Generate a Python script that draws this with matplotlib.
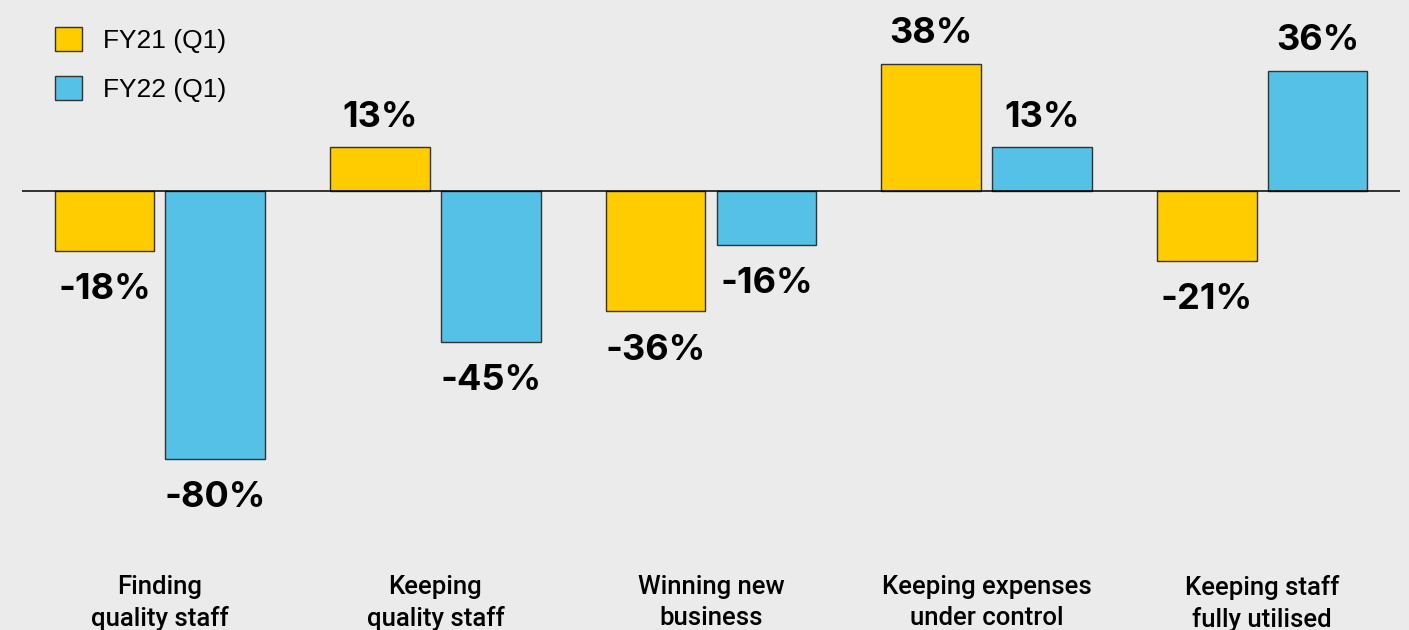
import numpy as np
import matplotlib.pyplot as plt
from matplotlib.patches import Patch

categories = ["Finding\nquality staff", "Keeping\nquality staff", "Winning new\nbusiness",
              "Keeping expenses\nunder control", "Keeping staff\nfully utilised"]
fy21 = [-18, 13, -36, 38, -21]
fy22 = [-80, -45, -16, 13, 36]
series_names = ["FY21 (Q1)", "FY22 (Q1)"]

yellow = "#ffcc00"
blue = "#55c1e7"
bg = "#ebebeb"

fig = plt.figure(figsize=(14.09, 6.3), dpi=100, facecolor=bg)
# zero line sits at y=191px, 3.345px per percent
ax = fig.add_axes([22 / 1409, 1 - 525.5 / 630, 1378 / 1409, 525.2 / 630])
ax.set_facecolor(bg)

x = np.arange(len(categories))
w = 0.362
off = 0.201
b1 = ax.bar(x - off, fy21, w, color=yellow, edgecolor="#333333", linewidth=1)
b2 = ax.bar(x + off, fy22, w, color=blue, edgecolor="#333333", linewidth=1)
ax.axhline(0, color="black", lw=1.1, zorder=3)

ax.set_xlim(-0.5, 4.5)
ax.set_ylim(-100, 57)

for bars, vals in [(b1, fy21), (b2, fy22)]:
    for rect, v in zip(bars, vals):
        cx = rect.get_x() + rect.get_width() / 2
        if v >= 0:
            ax.annotate(f"{v}%", (cx, v), xytext=(0, 10), textcoords="offset points",
                        ha="center", va="bottom", fontsize=26, fontweight="bold",
                        family="Inter", color="black")
        else:
            ax.annotate(f"{v}%", (cx, v), xytext=(0, -16), textcoords="offset points",
                        ha="center", va="top", fontsize=26, fontweight="bold",
                        family="Inter", color="black")

ax.set_xticks(x)
ax.set_xticklabels(categories, fontsize=18.5, family="Roboto", fontweight="medium",
                   color="black", linespacing=1.36)
ax.tick_params(axis="x", length=0, pad=35.5)
ax.set_yticks([])
for s in ax.spines.values():
    s.set_visible(False)

handles = [Patch(facecolor=yellow, edgecolor="#333333", lw=1),
           Patch(facecolor=blue, edgecolor="#333333", lw=1)]
fig.legend(handles, series_names, loc="upper left",
           bbox_to_anchor=(55 / 1409, 1 - 27 / 630), bbox_transform=fig.transFigure,
           frameon=False, borderpad=0, borderaxespad=0,
           prop={"family": "Liberation Sans", "size": 19},
           handlelength=1.03, handleheight=1.03, handletextpad=0.78, labelspacing=0.85)

fig.savefig("out.png", dpi=100, facecolor=bg)
